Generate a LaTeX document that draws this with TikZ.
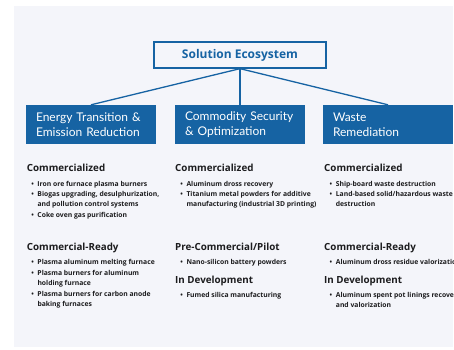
\documentclass[tikz,border=0pt]{standalone}
\usepackage{fontspec}
\setmainfont{Open Sans}
\newfontfamily\boxfont{Lato}
\definecolor{ecoblue}{RGB}{22, 99, 163}
\definecolor{ecobg}{RGB}{244, 245, 250}
\definecolor{ecotext}{RGB}{28, 28, 30}
\usetikzlibrary{positioning}
\newcommand{\bul}{\makebox[0pt][r]{\textbullet\hspace{3.6pt}}}

\begin{document}
\begin{tikzpicture}[x=1pt, y=-1pt,
  titlebox/.style={draw=ecoblue, line width=1.3pt, minimum width=172pt, minimum height=26pt,
    inner sep=0pt, text=ecoblue, font=\fontsize{12}{14}\selectfont\bfseries},
  pillar/.style={fill=ecoblue, text=white, minimum width=130pt, minimum height=39pt,
    inner xsep=10pt, inner ysep=0pt, text width=110pt, align=left,
    font=\boxfont\fontsize{12}{15}\selectfont},
  link/.style={draw=ecoblue, line width=1.3pt},
  head/.style={anchor=base west, inner sep=0pt, text=ecotext, font=\fontsize{9.8}{12}\selectfont\bfseries},
  item/.style={anchor=base west, inner sep=0pt, align=left, text=ecotext,
    font=\fontsize{6.8}{10.5}\selectfont\bfseries}]
  \useasboundingbox (0, 0) rectangle (454, 349);
  \fill[ecobg] (14, 6) rectangle (453, 347);
  \clip (14, 6) rectangle (453, 347);

  % top of the tree
  \node[titlebox] (sol) at (240, 55) {Solution Ecosystem};
  \node[pillar] (energy) at (91, 124.5) {Energy Transition \&\\Emission Reduction};
  \node[pillar] (commodity) at (240, 124.5) {Commodity Security\\\& Optimization};
  \node[pillar] (waste) at (388, 124.5) {Waste\\Remediation};
  \draw[link] (sol.south) -- (energy.north);
  \draw[link] (sol.south) -- (commodity.north);
  \draw[link] (sol.south) -- (waste.north);

  % Energy transition column (two-line items sit on their last baseline)
  \node[head] (e-com) at (26.7, 171.8) {Commercialized};
  \node[item] (e-com1) at (37.3, 186.2) {\bul Iron ore furnace plasma burners};
  \node[item] (e-com2) at (37.3, 206.9) {\bul Biogas upgrading, desulphurization,\\and pollution control systems};
  \node[item] (e-com3) at (37.3, 217.6) {\bul Coke oven gas purification};
  \node[head] (e-rdy) at (26.7, 250.2) {Commercial-Ready};
  \node[item] (e-rdy1) at (37.3, 264.5) {\bul Plasma aluminum melting furnace};
  \node[item] (e-rdy2) at (37.3, 285.5) {\bul Plasma burners for aluminum\\holding furnace};
  \node[item] (e-rdy3) at (37.3, 306.7) {\bul Plasma burners for carbon anode\\baking furnaces};

  % Commodity column
  \node[head] (c-com) at (175, 171.8) {Commercialized};
  \node[item] (c-com1) at (186.3, 186.2) {\bul Aluminum dross recovery};
  \node[item] (c-com2) at (186.3, 206.9) {\bul Titanium metal powders for additive\\manufacturing (industrial 3D printing)};
  \node[head] (c-pil) at (175, 250.2) {Pre-Commercial/Pilot};
  \node[item] (c-pil1) at (186.3, 264.3) {\bul Nano-silicon battery powders};
  \node[head] (c-dev) at (175, 283) {In Development};
  \node[item] (c-dev1) at (186.3, 297.3) {\bul Fumed silica manufacturing};

  % Waste column
  \node[head] (w-com) at (324, 171.8) {Commercialized};
  \node[item] (w-com1) at (335.7, 186.2) {\bul Ship-board waste destruction};
  \node[item] (w-com2) at (335.7, 206.9) {\bul Land-based solid/hazardous waste\\destruction};
  \node[head] (w-rdy) at (324, 250.2) {Commercial-Ready};
  \node[item] (w-rdy1) at (335.7, 264.3) {\bul Aluminum dross residue valorization};
  \node[head] (w-dev) at (324, 283) {In Development};
  \node[item] (w-dev1) at (335.7, 307.8) {\bul Aluminum spent pot linings recovery\\and valorization};
\end{tikzpicture}
\end{document}
